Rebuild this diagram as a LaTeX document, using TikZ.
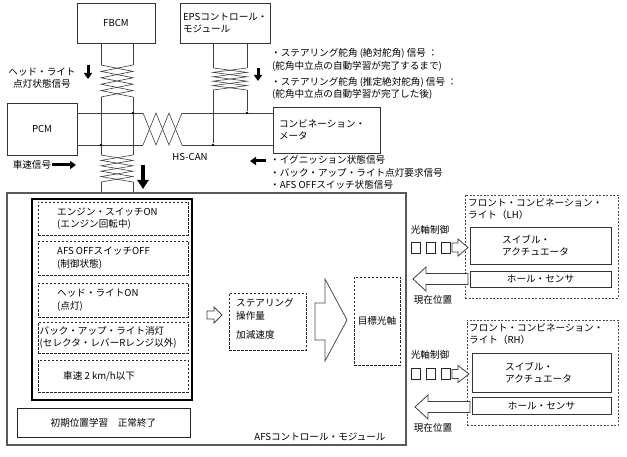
\documentclass[tikz,border=0pt]{standalone}
\usepackage{fontspec}
\setmainfont{Noto Sans CJK JP}
\usetikzlibrary{arrows.meta}
\newcommand{\mytwistv}[4]{%
  \draw[wire] (#1,#3) -- (#2,{#3+0.2*(#4-#3)}) -- (#1,{#3+0.4*(#4-#3)}) -- (#2,{#3+0.6*(#4-#3)}) -- (#1,{#3+0.8*(#4-#3)}) -- (#2,#4);
  \draw[wire] (#2,#3) -- (#1,{#3+0.2*(#4-#3)}) -- (#2,{#3+0.4*(#4-#3)}) -- (#1,{#3+0.6*(#4-#3)}) -- (#2,{#3+0.8*(#4-#3)}) -- (#1,#4);
}
\begin{document}
\begin{tikzpicture}[x=1pt,y=-1pt,
  font=\fontsize{9.6}{12.5}\selectfont,
  box/.style={draw=black!80, line width=0.8pt, inner sep=0pt},
  dbox/.style={draw=black!85, line width=0.9pt, dash pattern=on 2.5pt off 1.5pt, inner sep=0pt},
  lbox/.style={draw=black!70, line width=0.7pt, dash pattern=on 2pt off 1.5pt, inner sep=0pt},
  wire/.style={draw=black!75, line width=0.6pt},
  barrow/.style={line width=3pt, -{Triangle[length=6pt,width=8pt]}},
  bigarrow/.style={line width=4pt, -{Triangle[length=9pt,width=11pt]}},
  hollow/.style={draw=black!75, line width=0.8pt, fill=white, line join=miter},
  txt/.style={inner sep=0pt, align=left},
  sq/.style={draw=black!85, line width=0.7pt, minimum width=8.5pt, minimum height=11pt, inner sep=0pt},
  dot/.style={circle, fill=black, inner sep=0pt, minimum size=2.8pt},
]
\useasboundingbox (0,0) rectangle (627,457);

% ---------- top modules ----------
\node[box, minimum width=78pt, minimum height=40pt] (fbcm) at (116,23) {FBCM};
\node[box, minimum width=90pt, minimum height=40pt, text width=84pt, inner xsep=3pt, align=left] (eps) at (225,23) {EPSコントロール・\\モジュール};
\node[box, minimum width=70pt, minimum height=52pt] (pcm) at (42,129) {PCM};
\node[box, minimum width=107pt, minimum height=46pt, text width=95pt, inner xsep=6pt, align=left] (meter) at (326.5,130) {コンビネーション・\\メータ};

% ---------- AFS module frame ----------
\node[draw=black!65, line width=1.2pt, minimum width=399pt, minimum height=252pt, inner sep=0pt] (afs) at (206.5,319) {};
\node[txt] (afst) at (320,437) {AFSコントロール・モジュール};

% ---------- HS-CAN bus ----------
\coordinate (htl) at (143,113); \coordinate (htr) at (182,113);
\coordinate (hbl) at (143,145); \coordinate (hbr) at (182,145);
\draw[wire] (pcm.east |- htl) -- (htl);
\draw[wire] (htr) -- (meter.west |- htr);
\draw[wire] (pcm.east |- hbl) -- (hbl);
\draw[wire] (hbr) -- (meter.west |- hbr);
\draw[wire] (htl) -- (156,145) -- (169,113) -- (hbr);
\draw[wire] (hbl) -- (156,113) -- (169,145) -- (htr);
\node[txt] (hscan) at (190,157) {HS-CAN};

% ---------- FBCM wires ----------
\coordinate (fl1) at (101,65); \coordinate (fr1) at (133,65);
\coordinate (fl2) at (101,97); \coordinate (fr2) at (133,97);
\coordinate (fl3) at (101,155); \coordinate (fr3) at (133,155);
\coordinate (fl4) at (101,182); \coordinate (fr4) at (133,182);
\draw[wire] (fbcm.south -| fl1) -- (fl1);
\draw[wire] (fbcm.south -| fr1) -- (fr1);
\mytwistv{101}{133}{65}{97}
\draw[wire] (fl2) -- (fl3);
\draw[wire] (fr2) -- (fr3);
\mytwistv{101}{133}{155}{182}
\draw[wire] (fl4) -- (afs.north -| fl4);
\draw[wire] (fr4) -- (afs.north -| fr4);
\node[dot] (d1) at (133,113) {};
\node[dot] (d2) at (101,145) {};

% ---------- EPS wires ----------
\coordinate (el1) at (213,68); \coordinate (er1) at (247,68);
\coordinate (el2) at (213,90); \coordinate (er2) at (247,90);
\draw[wire] (eps.south -| el1) -- (el1);
\draw[wire] (eps.south -| er1) -- (er1);
\mytwistv{213}{247}{68}{90}
\node[dot] (d3) at (247,113) {};
\node[dot] (d4) at (213,145) {};
\draw[wire] (er2) -- (d3);
\draw[wire] (el2) -- (d4);

% ---------- signal labels & black arrows ----------
\node[txt, align=center] (hlsig) at (42,78) {ヘッド・ライト\\点灯状態信号};
\coordinate (a1s) at (88,65); \coordinate (a1e) at (88,79);
\draw[barrow] (a1s) -- (a1e);

\coordinate (a2s) at (258,68); \coordinate (a2e) at (258,81);
\draw[barrow] (a2s) -- (a2e);
\node[txt, anchor=west] (s1) at (271,53) {・ステアリング舵角 (絶対舵角) 信号 ：};
\node[txt, anchor=west] (s2) at (272,66) {(舵角中立点の自動学習が完了するまで)};
\node[txt, anchor=west] (s3) at (271,82) {・ステアリング舵角 (推定絶対舵角) 信号 ：};
\node[txt, anchor=west] (s4) at (272,94) {(舵角中立点の自動学習が完了した後)};

\coordinate (a3s) at (266,161); \coordinate (a3e) at (250,161);
\draw[barrow] (a3s) -- (a3e);
\node[txt, anchor=west] (s5) at (270,160) {・イグニッション状態信号};
\node[txt, anchor=west] (s6) at (270,173) {・バック・アップ・ライト点灯要求信号};
\node[txt, anchor=west] (s7) at (270,185) {・AFS OFFスイッチ状態信号};

\node[txt] (vsig) at (32,165) {車速信号};
\coordinate (a4s) at (52,165); \coordinate (a4e) at (76,165);
\draw[barrow] (a4s) -- (a4e);

\coordinate (a5s) at (143,165); \coordinate (a5e) at (143,189);
\draw[bigarrow] (a5s) -- (a5e);

% ---------- conditions ----------
\node[draw=black, line width=1.5pt, minimum width=160pt, minimum height=201pt, inner sep=0pt] (cond) at (112,299.5) {};
\node[dbox, minimum width=150pt, minimum height=33pt] (c1) at (113,218.5) {};
\node[txt, anchor=west] (c1t) at (57,218.5) {エンジン・スイッチON\\(エンジン回転中)};
\node[dbox, minimum width=150pt, minimum height=34pt] (c2) at (113,258) {};
\node[txt, anchor=west] (c2t) at (57,258) {AFS OFFスイッチOFF\\(制御状態)};
\node[dbox, minimum width=150pt, minimum height=34pt] (c3) at (113,300) {};
\node[txt, anchor=west] (c3t) at (57,300) {ヘッド・ライトON\\(点灯)};
\node[dbox, minimum width=150pt, minimum height=31pt] (c4) at (113,337.5) {};
\node[txt, anchor=west] (c4t) at (39.5,337.5) {バック・アップ・ライト消灯\\(セレクタ・レバーRレンジ以外)};
\node[dbox, minimum width=150pt, minimum height=32pt] (c5) at (113,376) {};
\node[txt, anchor=west] (c5t) at (63,376) {車速 2 km/h以下};

\node[draw=black!85, line width=1pt, minimum width=173pt, minimum height=29pt, inner sep=0pt] (init) at (103.5,422.5) {初期位置学習　正常終了};

% ---------- processing ----------
\draw[hollow] (207,311) -- (214,311) -- (214,307) -- (222,315) -- (214,323) -- (214,319) -- (207,319) -- cycle;
\node[dbox, minimum width=77pt, minimum height=57pt] (steer) at (267.5,321.5) {};
\node[txt, anchor=west] (st1) at (236,303) {ステアリング};
\node[txt, anchor=west] (st2) at (236,316) {操作量};
\node[txt, anchor=west] (st3) at (236,335) {加減速度};
\draw[hollow, draw=black!70] (315,303) -- (325,303) -- (325,279) -- (347,320) -- (325,361) -- (325,340) -- (315,340) -- cycle;
\node[dbox, minimum width=46pt, minimum height=88pt] (target) at (377,321) {目標光軸};

% ---------- front combination light LH ----------
\node[lbox, minimum width=153pt, minimum height=103pt] (lh) at (541.5,246.5) {};
\node[txt, anchor=west] (lht) at (468,209) {フロント・コンビネーション・\\ライト（LH）};
\node[box, minimum width=141pt, minimum height=37pt] (swl) at (540.5,245.5) {};
\node[txt, anchor=west] (swlt) at (502,245.5) {スイブル・\\アクチュエータ};
\node[box, minimum width=141pt, minimum height=16pt] (hsl) at (540.5,279) {ホール・センサ};
\node[txt] (ctl) at (430,230) {光軸制御};
\node[sq] (q1) at (416,247.5) {};
\node[sq] (q2) at (431,247.5) {};
\node[sq] (q3) at (446,247.5) {};
\draw[hollow] (452,243) -- (458,243) -- (458,239) -- (468,247.5) -- (458,256) -- (458,252) -- (452,252) -- cycle;
\draw[hollow] (468,273.5) -- (426,273.5) -- (426,267) -- (413,279) -- (426,291) -- (426,284.5) -- (468,284.5) -- cycle;
\node[txt] (posl) at (433,300) {現在位置};

% ---------- front combination light RH ----------
\node[lbox, minimum width=151pt, minimum height=105pt] (rh) at (542.5,372.5) {};
\node[txt, anchor=west] (rht) at (469,334) {フロント・コンビネーション・\\ライト（RH）};
\node[box, minimum width=139pt, minimum height=39pt] (swr) at (541.5,372.5) {};
\node[txt, anchor=west] (swrt) at (505,372.5) {スイブル・\\アクチュエータ};
\node[box, minimum width=139pt, minimum height=17pt] (hsr) at (541.5,405.5) {ホール・センサ};
\node[txt] (ctr) at (430,355) {光軸制御};
\node[sq] (q4) at (416,374) {};
\node[sq] (q5) at (431,374) {};
\node[sq] (q6) at (446,374) {};
\draw[hollow] (452,369.5) -- (458,369.5) -- (458,365.5) -- (469,374) -- (458,382.5) -- (458,378.5) -- (452,378.5) -- cycle;
\draw[hollow] (470,401.5) -- (428,401.5) -- (428,395) -- (415,407) -- (428,419) -- (428,412.5) -- (470,412.5) -- cycle;
\node[txt] (posr) at (433,428) {現在位置};
\end{tikzpicture}
\end{document}
